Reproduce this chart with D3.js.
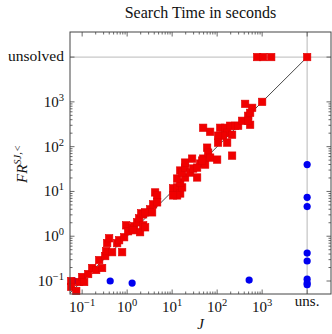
<!DOCTYPE html>
<html>
<head>
<meta charset="utf-8">
<script src="https://cdn.jsdelivr.net/npm/d3@7"></script>
<style>
    body { margin: 0; background: #fff; }
    svg { display: block; }
    text { font-family: "Liberation Serif", "DejaVu Serif", serif; fill: #111; }
</style>
</head>
<body>
<div class="container"></div>
<script>
//solver times, null means "unsolved"
var redJ = [0.057, 0.057, 0.074, 0.086, 0.1, 0.111, 0.136, 0.167, 0.205, 0.239,
    0.278, 0.325, 0.341, 0.36, 0.398, 0.464, 0.6, 0.664, 0.774, 0.858,
    0.95, 1.05, 1.29, 1.43, 1.67, 1.85, 1.94, 2.05, 2.27, 2.27,
    3.25, 3.78, 4.19, 4.64, 4.64, 2.51, 3.59, 2.51, 1.36, 10.5,
    12.9, 15.1, 12.9, 10.5, 16.7, 15.1, 12.9, 19.4, 35.9, 15.1,
    16.7, 19.4, 25.1, 29.3, 19.4, 27.8, 41.9, 48.9, 59.9, 35.9,
    54.1, 63.1, 69.9, 100, 215, 46.4, 48.9, 69.9, 117, 151,
    194, 251, 293, 359, 167, 215, 136, 105, 105, 167,
    489, 541, 600, 419, 1000, 541, 489,
    774, 1050, 1590, null];
var redFR = [0.1, 0.074, 0.06, 0.095, 0.123, 0.095, 0.143, 0.195, 0.176, 0.293,
    0.195, 0.36, 0.464, 0.7, 0.9, 0.44, 0.7, 0.815, 0.44, 0.95,
    1.75, 1.29, 1.51, 1.67, 2.05, 2.51, 1.23, 3.25, 1.75, 3.08,
    3.98, 5.14, 9.5, 8.15, 5.7, 3.41, 3.41, 1.58, 1.36, 11.7,
    12.3, 9.0, 8.15, 8.15, 12.3, 15.8, 19.4, 20.5, 20.5, 29.3,
    26.4, 34.1, 26.4, 32.5, 44.1, 54.1, 41.9, 54.1, 95, 34.1,
    39.8, 73.6, 57, 51.4, 63.1, 48.9, 264, 215, 264, 264,
    293, 293, 293, 378, 205, 185, 176, 176, 123, 123,
    489, 308, 736, 903, 1000, 570, 378,
    null, null, null, null];
var blueJ = [0.066, 0.42, 1.29, 514, null, null, null, null, null, null, null, null];
var blueFR = [0.1, 0.1, 0.09, 0.105, 39.8, 7.4, 4.6, 0.42, 0.28, 0.11, 0.09, 0.082];
var majorExp = [-1, 0, 1, 2, 3];
var titleText = "Search Time in seconds";

(function () {
    var width = 332, height = 334;
    var left = 70, right = 331, top = 32, bottom = 294;
    var UNS = 1e4; //where "unsolved" sits on both axes

    function setChart() {
        var svg = d3.select(".container")
            .append("svg")
            .attr("width", width)
            .attr("height", height);

        var x = d3.scaleLog()
            .domain([Math.pow(10, -1.27), Math.pow(10, 4.53)])
            .range([left, right]);
        var y = d3.scaleLog()
            .domain([Math.pow(10, -1.29), Math.pow(10, 4.56)])
            .range([bottom, top]);

        function px(v) { return x(v === null ? UNS : v); }
        function py(v) { return y(v === null ? UNS : v); }

        //minor tick values 2..9 in each decade from 0.1 to 1000
        var minors = [];
        for (var e = -1; e < 3; e++) {
            for (var m = 2; m < 10; m++) minors.push(m * Math.pow(10, e));
        }
        var majors = majorExp.map(function (e) { return Math.pow(10, e); });

        //gray "unsolved" guide lines
        svg.append("line")
            .attr("x1", left).attr("x2", right)
            .attr("y1", y(UNS)).attr("y2", y(UNS))
            .style("stroke", "#c8c8c8").style("stroke-width", 1.3);
        svg.append("line")
            .attr("x1", x(UNS)).attr("x2", x(UNS))
            .attr("y1", top).attr("y2", bottom)
            .style("stroke", "#c8c8c8").style("stroke-width", 1.3);

        //diagonal y = x
        var d0 = x.domain()[0];
        svg.append("line")
            .attr("x1", x(d0)).attr("y1", y(d0))
            .attr("x2", x(UNS)).attr("y2", y(UNS))
            .style("stroke", "#333").style("stroke-width", 0.9);

        //ticks, pointing inward on all four sides
        var tickG = svg.append("g").style("stroke", "#444").style("stroke-width", 0.8);
        function xTicks(vals, len) {
            vals.forEach(function (v) {
                tickG.append("line").attr("x1", x(v)).attr("x2", x(v))
                    .attr("y1", bottom).attr("y2", bottom - len);
                tickG.append("line").attr("x1", x(v)).attr("x2", x(v))
                    .attr("y1", top).attr("y2", top + len);
            });
        }
        function yTicks(vals, len) {
            vals.forEach(function (v) {
                tickG.append("line").attr("y1", y(v)).attr("y2", y(v))
                    .attr("x1", left).attr("x2", left + len);
                tickG.append("line").attr("y1", y(v)).attr("y2", y(v))
                    .attr("x1", right).attr("x2", right - len);
            });
        }
        xTicks(minors, 2.5);
        xTicks(majors.concat([UNS]), 4.5);
        yTicks(minors, 2.5);
        yTicks(majors.concat([UNS]), 4.5);

        //blue circles first, red squares on top
        var blue = blueJ.map(function (d, i) { return [d, blueFR[i]]; });
        svg.selectAll(".blue")
            .data(blue)
            .enter()
            .append("circle")
            .attr("class", "blue")
            .attr("cx", function (d) { return px(d[0]); })
            .attr("cy", function (d) { return py(d[1]); })
            .attr("r", 3.6)
            .style("fill", "#0000f0");

        var red = redJ.map(function (d, i) { return [d, redFR[i]]; });
        var s = 7.4;
        svg.selectAll(".red")
            .data(red)
            .enter()
            .append("rect")
            .attr("class", "red")
            .attr("x", function (d) { return px(d[0]) - s / 2; })
            .attr("y", function (d) { return py(d[1]) - s / 2; })
            .attr("width", s)
            .attr("height", s)
            .style("fill", "#f00000")
            .style("stroke", "#e00000")
            .style("stroke-width", 0.6);

        //frame
        svg.append("rect")
            .attr("x", left).attr("y", top)
            .attr("width", right - left).attr("height", bottom - top)
            .style("fill", "none").style("stroke", "#444").style("stroke-width", 1);

        //tick labels
        majorExp.forEach(function (e) {
            var tx = svg.append("text")
                .attr("x", x(Math.pow(10, e)))
                .attr("y", 312)
                .attr("text-anchor", "middle")
                .style("font-size", "15px");
            tx.append("tspan").text("10");
            tx.append("tspan").attr("dy", -6).style("font-size", "10.5px").text(e < 0 ? "\u2212" + (-e) : e);

            var ty = svg.append("text")
                .attr("x", 64)
                .attr("y", y(Math.pow(10, e)) + 5)
                .attr("text-anchor", "end")
                .style("font-size", "15px");
            ty.append("tspan").text("10");
            ty.append("tspan").attr("dy", -6).style("font-size", "10.5px").text(e < 0 ? "\u2212" + (-e) : e);
        });
        svg.append("text")
            .attr("x", x(UNS)).attr("y", 306)
            .attr("text-anchor", "middle")
            .style("font-size", "15px")
            .text("uns.");
        svg.append("text")
            .attr("x", 64).attr("y", y(UNS) + 4)
            .attr("text-anchor", "end")
            .style("font-size", "15.5px")
            .text("unsolved");

        //title and axis labels
        svg.append("text")
            .attr("x", (left + right) / 2).attr("y", 18)
            .attr("text-anchor", "middle")
            .style("font-size", "16px")
            .text(titleText);
        svg.append("text")
            .attr("x", (left + right) / 2).attr("y", 329)
            .attr("text-anchor", "middle")
            .style("font-size", "15px").style("font-style", "italic")
            .text("J");
        var yl = svg.append("text")
            .attr("transform", "translate(27," + 164 + ") rotate(-90)")
            .attr("text-anchor", "middle")
            .style("font-size", "15px").style("font-style", "italic");
        yl.append("tspan").text("FR");
        yl.append("tspan").attr("dy", -6).style("font-size", "10.5px").text("SJ,<");
    }

    window.onload = setChart;
})();
</script>
</body>
</html>
